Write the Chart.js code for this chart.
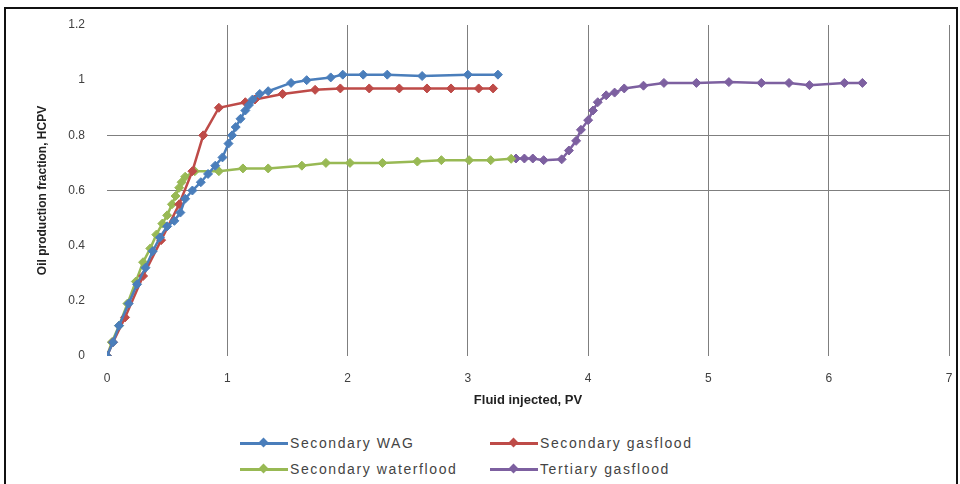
<!DOCTYPE html>
<html>
<head>
<meta charset="utf-8">
<script src="https://cdn.jsdelivr.net/npm/chart.js@4.4.1/dist/chart.umd.min.js"></script>
<style>
  html, body { margin: 0; padding: 0; background: #fff; }
  body { width: 960px; height: 484px; position: relative; overflow: hidden; font-family: "Liberation Sans", Arial, sans-serif; }
  #frame { position: absolute; left: 4px; top: 7px; width: 954px; height: 495px; border: 2px solid #111; box-sizing: border-box; }
  #chart { position: absolute; left: 0; top: 0; }
  #legend { position: absolute; left: 240px; top: 433px; display: grid; grid-template-columns: 250px 250px; row-gap: 6px; }
  .item { display: flex; align-items: center; height: 20px; font-size: 14px; color: #444; letter-spacing: 1.6px; white-space: nowrap; }
  .swatch { position: relative; width: 48px; height: 12px; margin-right: 2px; }
  .swatch .ln { position: absolute; left: 0; right: 0; top: 5px; height: 3px; }
  .swatch .dm { position: absolute; left: 20px; top: 2px; width: 7px; height: 7px; transform: rotate(45deg); }
</style>
</head>
<body>
<div id="frame"></div>
<canvas id="chart" width="960" height="420"></canvas>
<div id="legend"></div>
<script>
// tick labels
const xTicks = [0, 1, 2, 3, 4, 5, 6, 7];
const yTicks = [0, 0.2, 0.4, 0.6, 0.8, 1, 1.2];

// Secondary WAG
const wagX = [0, 0.05, 0.1, 0.18, 0.25, 0.32, 0.38, 0.44, 0.5, 0.56, 0.61, 0.65, 0.71, 0.78, 0.84, 0.9, 0.96, 1.01, 1.04, 1.07, 1.11, 1.15, 1.18, 1.21, 1.27, 1.34, 1.53, 1.66, 1.86, 1.96, 2.13, 2.33, 2.62, 3.0, 3.25];
const wagY = [0, 0.05, 0.11, 0.19, 0.26, 0.32, 0.38, 0.43, 0.47, 0.49, 0.52, 0.57, 0.6, 0.63, 0.66, 0.69, 0.72, 0.77, 0.8, 0.83, 0.86, 0.89, 0.91, 0.93, 0.95, 0.96, 0.99, 1.0, 1.01, 1.02, 1.02, 1.02, 1.015, 1.02, 1.02];

// Secondary gasflood
const gasX = [0, 0.05, 0.15, 0.3, 0.45, 0.6, 0.71, 0.8, 0.93, 1.15, 1.23, 1.46, 1.73, 1.94, 2.18, 2.43, 2.66, 2.86, 3.09, 3.21];
const gasY = [0, 0.05, 0.14, 0.29, 0.42, 0.55, 0.67, 0.8, 0.9, 0.92, 0.93, 0.95, 0.965, 0.97, 0.97, 0.97, 0.97, 0.97, 0.97, 0.97];

// Secondary waterflood
const watX = [0, 0.04, 0.1, 0.17, 0.24, 0.3, 0.36, 0.41, 0.46, 0.5, 0.54, 0.57, 0.6, 0.62, 0.65, 0.73, 0.93, 1.13, 1.34, 1.62, 1.82, 2.02, 2.29, 2.58, 2.78, 3.01, 3.19, 3.36];
const watY = [0, 0.05, 0.11, 0.19, 0.27, 0.34, 0.39, 0.44, 0.48, 0.51, 0.55, 0.58, 0.61, 0.63, 0.65, 0.67, 0.67, 0.68, 0.68, 0.69, 0.7, 0.7, 0.7, 0.705, 0.71, 0.71, 0.71, 0.715];

// Tertiary gasflood
const terX = [3.4, 3.47, 3.54, 3.63, 3.78, 3.84, 3.9, 3.94, 4.0, 4.04, 4.08, 4.15, 4.22, 4.3, 4.46, 4.63, 4.9, 5.17, 5.44, 5.67, 5.84, 6.13, 6.28];
const terY = [0.716, 0.716, 0.716, 0.71, 0.713, 0.745, 0.78, 0.82, 0.855, 0.89, 0.92, 0.945, 0.955, 0.97, 0.98, 0.99, 0.99, 0.993, 0.99, 0.99, 0.982, 0.99, 0.99];

const series = [
  { label: "Secondary WAG", xs: wagX, ys: wagY, color: "#4a7ebb" },
  { label: "Secondary gasflood", xs: gasX, ys: gasY, color: "#be4b48" },
  { label: "Secondary waterflood", xs: watX, ys: watY, color: "#98b954" },
  { label: "Tertiary gasflood", xs: terX, ys: terY, color: "#7d60a0" }
];

function pts(xs, ys) {
  return xs.map(function (x, i) { return { x: x, y: ys[i] }; });
}

const gridColor = "#7f7f7f";

new Chart(document.getElementById("chart"), {
  type: "scatter",
  data: {
    datasets: series.map(function (s) {
      return {
        label: s.label,
        data: pts(s.xs, s.ys),
        showLine: true,
        borderColor: s.color,
        backgroundColor: s.color,
        borderWidth: 2.5,
        pointStyle: "rectRot",
        pointRadius: 4.5,
        pointBackgroundColor: s.color,
        pointBorderColor: s.color,
        pointBorderWidth: 1,
        tension: 0
      };
    })
  },
  options: {
    responsive: false,
    animation: false,
    layout: { autoPadding: false, padding: { left: 29, top: 25, right: 11, bottom: 5 } },
    plugins: {
      legend: { display: false },
      tooltip: { enabled: false }
    },
    scales: {
      x: {
        type: "linear",
        position: "bottom",
        min: 0,
        max: 7,
        afterBuildTicks: function (s) { s.ticks = xTicks.map(function (v) { return { value: v }; }); },
        afterFit: function (s) { s.height = 59; },
        border: { display: false },
        grid: {
          drawTicks: true,
          tickLength: 13,
          tickColor: "transparent",
          lineWidth: 1,
          color: function (c) { return c.tick && c.tick.value > 0 ? gridColor : "transparent"; }
        },
        ticks: {
          padding: 2,
          color: "#404040",
          font: { size: 12, family: "'Liberation Sans', Arial, sans-serif" }
        },
        title: {
          display: true,
          text: "Fluid injected, PV",
          color: "#222",
          padding: { top: 4, bottom: 7 },
          font: { size: 13, weight: "bold", family: "'Liberation Sans', Arial, sans-serif" }
        }
      },
      y: {
        min: 0,
        max: 1.2,
        afterBuildTicks: function (s) { s.ticks = yTicks.map(function (v) { return { value: v }; }); },
        afterFit: function (s) { s.width = 78; },
        border: { display: false },
        grid: {
          drawTicks: true,
          tickLength: 20,
          tickColor: "transparent",
          lineWidth: 1,
          color: function (c) {
            if (!c.tick) return "transparent";
            const v = c.tick.value;
            return (Math.abs(v - 0.6) < 1e-6 || Math.abs(v - 0.8) < 1e-6) ? gridColor : "transparent";
          }
        },
        ticks: {
          padding: 2,
          color: "#404040",
          font: { size: 12, family: "'Liberation Sans', Arial, sans-serif" },
          callback: function (v) { return String(v); }
        },
        title: {
          display: true,
          text: "Oil production fraction, HCPV",
          color: "#222",
          padding: { top: 6, bottom: 4 },
          font: { size: 12, weight: "bold", family: "'Liberation Sans', Arial, sans-serif" }
        }
      }
    }
  }
});

// legend, two per row like the original
const legend = document.getElementById("legend");
series.forEach(function (s) {
  const item = document.createElement("div");
  item.className = "item";
  item.innerHTML = '<span class="swatch"><span class="ln" style="background:' + s.color + '"></span>' +
    '<span class="dm" style="background:' + s.color + '"></span></span><span></span>';
  item.lastChild.textContent = s.label;
  legend.appendChild(item);
});
</script>
</body>
</html>
